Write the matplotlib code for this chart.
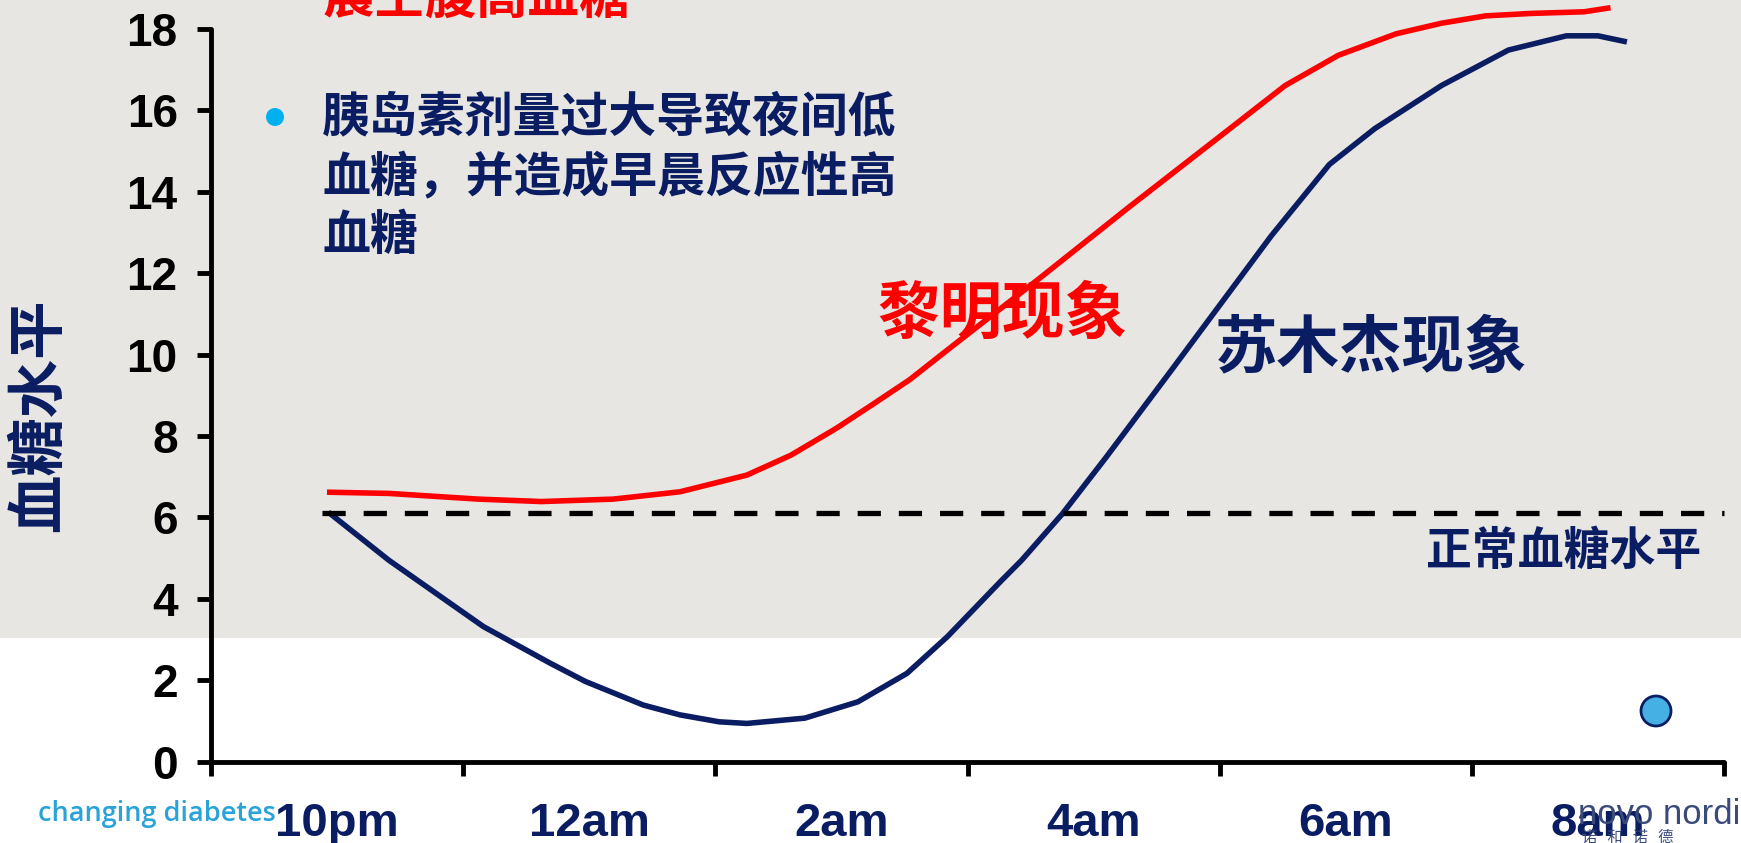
import matplotlib
matplotlib.use('Agg')
import matplotlib.pyplot as plt
from matplotlib.patches import Rectangle, Ellipse

plt.rcParams['font.family'] = ['Noto Sans CJK SC', 'DejaVu Sans']

# 数据: 横轴为距 22:00 的小时数
horas_vermelho = [-0.08, 0.41, 1.12, 1.62, 2.19, 2.72, 3.25, 3.60, 3.96, 4.24, 4.54, 4.86,
                  5.57, 6.28, 6.99, 7.52, 7.94, 8.40, 8.76, 9.11, 9.47, 9.89, 10.10]
glicose_vermelho = [6.62, 6.59, 6.45, 6.39, 6.45, 6.63, 7.04, 7.53, 8.19, 8.76, 9.38, 10.16,
                    11.87, 13.62, 15.33, 16.61, 17.35, 17.88, 18.14, 18.32, 18.38, 18.42, 18.52]

horas_azul = [-0.07, 0.41, 1.16, 1.69, 1.97, 2.43, 2.72, 3.03, 3.25, 3.71, 4.13, 4.52, 4.84,
              5.26, 5.43, 5.75, 6.10, 6.63, 6.99, 7.41, 7.87, 8.23, 8.76, 9.29, 9.75, 10.0, 10.23]
glicose_azul = [6.13, 4.95, 3.32, 2.42, 1.97, 1.39, 1.15, 0.98, 0.94, 1.07, 1.47, 2.17, 3.07,
                4.42, 4.95, 6.08, 7.48, 9.67, 11.17, 12.92, 14.67, 15.55, 16.61, 17.48, 17.83,
                17.83, 17.68]

nivel_normal = 6.1
inicio_normal = -0.12

rotulos_x = ['10pm', '12am', '2am', '4am', '6am', '8am']
posicoes_rotulos = [0, 2, 4, 6, 8, 10]
posicoes_ticks = [-1, 1, 3, 5, 7, 9, 11]
ticks_y = [0, 2, 4, 6, 8, 10, 12, 14, 16, 18]

W, H = 1741, 843
AZUL = '#0B1D62'
VERMELHO = '#FF0000'


def fx(px):
    return px / W


def fy(py):
    return 1 - py / H


fig = plt.figure(figsize=(W / 100, H / 100), dpi=100)
fig.patch.set_facecolor('white')

# fundo cinza do slide (atrás de tudo)
fig.patches.append(Rectangle((0, fy(638)), 1, 1 - fy(638), transform=fig.transFigure,
                             facecolor='#E7E6E2', edgecolor='none', zorder=-10))

ax = fig.add_axes([fx(211), fy(761.7), fx(1724) - fx(211), fy(28.9) - fy(761.7)])
ax.set_facecolor('none')

ax.plot(horas_vermelho, glicose_vermelho, color=VERMELHO, lw=4, solid_capstyle='butt',
        solid_joinstyle='round', clip_on=False)
ax.plot(horas_azul, glicose_azul, color=AZUL, lw=4, solid_capstyle='butt',
        solid_joinstyle='round', clip_on=False)
ax.plot([inicio_normal, 11], [nivel_normal, nivel_normal], color='black', lw=3.8,
        dashes=(4.4, 3.4), clip_on=False)

ax.set_xlim(-1, 11)
ax.set_ylim(0, 18)

for lado in ['top', 'right']:
    ax.spines[lado].set_visible(False)
for lado in ['left', 'bottom']:
    ax.spines[lado].set_linewidth(3.5)
    ax.spines[lado].set_capstyle('round')

ax.set_yticks(ticks_y)
ax.set_yticklabels([str(v) for v in ticks_y], family=['Liberation Sans'], weight='bold',
                   fontsize=33)
ax.tick_params(axis='y', length=10, width=3.5, pad=14)

ax.set_xticks(posicoes_ticks)
ax.set_xticklabels([])
ax.tick_params(axis='x', which='major', length=10, width=3.5)
ax.set_xticks(posicoes_rotulos, minor=True)
ax.set_xticklabels(rotulos_x, minor=True, family=['Liberation Sans'], weight='bold',
                   fontsize=34, color=AZUL)
ax.tick_params(axis='x', which='minor', length=0, pad=29)

# textos
fig.text(fx(477), fy(-3), '晨空腹高血糖', color=VERMELHO, fontsize=37, weight='bold',
         ha='center', va='center')
fig.patches.append(Ellipse((fx(275), fy(117)), 18 / W, 18 / H, transform=fig.transFigure,
                           facecolor='#00B0F0', edgecolor='none'))
linhas = ['胰岛素剂量过大导致夜间低', '血糖，并造成早晨反应性高', '血糖']
for linha, yy in zip(linhas, [117, 178, 235]):
    fig.text(fx(322), fy(yy), linha, color=AZUL, fontsize=34.5, weight='bold',
             ha='left', va='center')

fig.text(fx(1002), fy(314), '黎明现象', color=VERMELHO, fontsize=45, weight='bold',
         ha='center', va='center')
fig.text(fx(1371), fy(348), '苏木杰现象', color=AZUL, fontsize=45, weight='bold',
         ha='center', va='center')
fig.text(fx(1564), fy(552), '正常血糖水平', color=AZUL, fontsize=33, weight='bold',
         ha='center', va='center')
fig.text(fx(39), fy(415), '血糖水平', color=AZUL, fontsize=42, weight='bold',
         ha='center', va='center', rotation=90)

# rodapé: logos
fig.text(fx(38), fy(814), 'changing diabetes', color='#2AA3D8', fontsize=19.5,
         family=['Open Sans'], weight='semibold', ha='left', va='center')
fig.patches.append(Ellipse((fx(1656), fy(711)), 30 / W, 30 / H, transform=fig.transFigure,
                           facecolor='#45B0E3', edgecolor=AZUL, lw=2))
fig.text(fx(1578), fy(814), 'novo nordisk', color='#3A4A7A', fontsize=25,
         family=['Liberation Sans'], ha='left', va='center')
fig.text(fx(1582), fy(837), '诺   和   诺   德', color='#3A4A7A', fontsize=11,
         ha='left', va='center')

fig.savefig('out.png', dpi=100, facecolor=fig.get_facecolor())
